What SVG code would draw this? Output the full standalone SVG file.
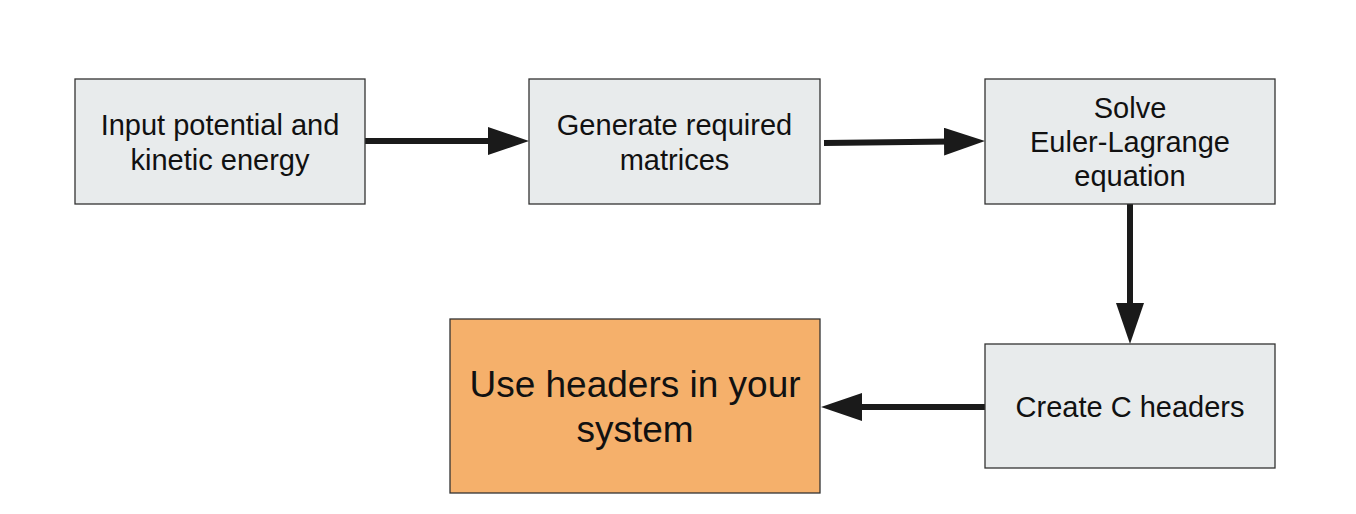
<svg xmlns="http://www.w3.org/2000/svg" width="1356" height="514" viewBox="0 0 1356 514">
<style>
.box{fill:#e8ebec;stroke:#333;stroke-width:1.3}
.hl{fill:#f5b06b;stroke:#333;stroke-width:1.3}
.t{font-family:"Liberation Sans",Arial,sans-serif;font-size:29px;fill:#111;text-anchor:middle}
.tb{font-family:"Liberation Sans",Arial,sans-serif;font-size:37px;fill:#111;text-anchor:middle}
.c{stroke:#1a1a1a;stroke-width:6;fill:none;marker-end:url(#ah)}
</style>
<defs>
<marker id="ah" markerUnits="userSpaceOnUse" markerWidth="41" markerHeight="28" refX="7" refY="14" orient="auto">
<path d="M0,0 L41,14 L0,28 z" fill="#1a1a1a"/>
</marker>
</defs>
<rect width="1356" height="514" fill="#fff"/>
<g id="connectors">
<path class="c" d="M365,141 L495,141"/>
<path class="c" d="M824,143 L951,141.5"/>
<path class="c" d="M1130,204 L1130,310"/>
<path class="c" d="M985,407 L855,407"/>
</g>
<g id="n1">
<rect class="box" x="75" y="79" width="290" height="125"/>
<text class="t" x="220" y="135">Input potential and</text>
<text class="t" x="220" y="170">kinetic energy</text>
</g>
<g id="n2">
<rect class="box" x="529" y="79" width="291" height="125"/>
<text class="t" x="674.5" y="135">Generate required</text>
<text class="t" x="674.5" y="170">matrices</text>
</g>
<g id="n3">
<rect class="box" x="985" y="79" width="290" height="125"/>
<text class="t" x="1130" y="118">Solve</text>
<text class="t" x="1130" y="152">Euler-Lagrange</text>
<text class="t" x="1130" y="186">equation</text>
</g>
<g id="n4">
<rect class="box" x="985" y="344" width="290" height="124"/>
<text class="t" x="1130" y="417">Create C headers</text>
</g>
<g id="n5">
<rect class="hl" x="450" y="319" width="370" height="174"/>
<text class="tb" x="635" y="397">Use headers in your</text>
<text class="tb" x="635" y="442">system</text>
</g>
</svg>
